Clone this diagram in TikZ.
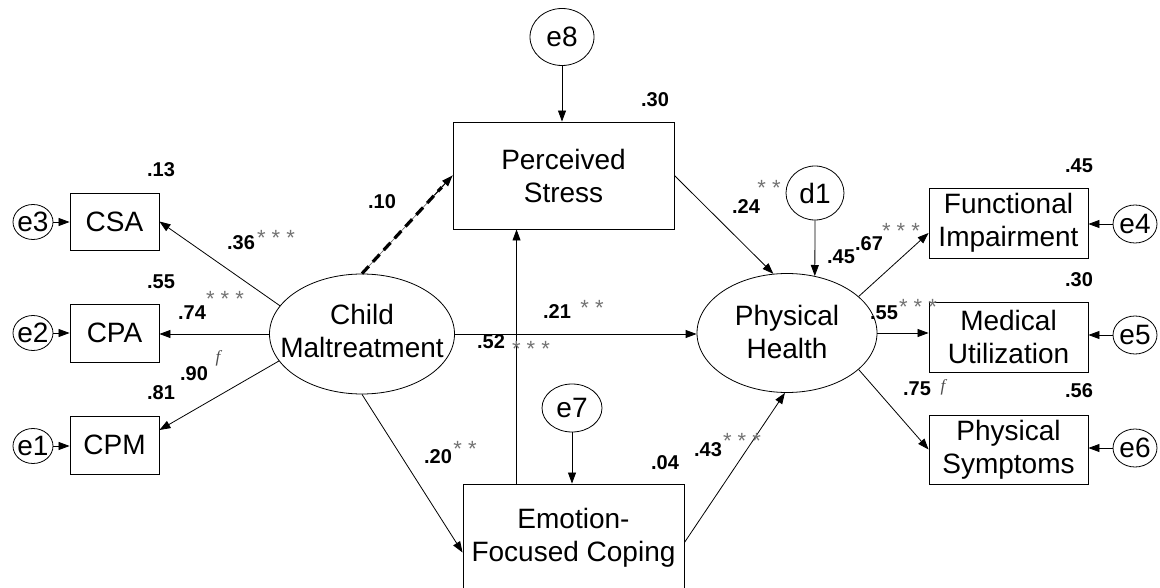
\documentclass[tikz,border=0pt]{standalone}
\usepackage{fontspec}
\setmainfont{Liberation Sans}
\newfontfamily\seriff{Liberation Serif}
\usetikzlibrary{arrows.meta,shapes.geometric,calc}
\newcommand\mainf{\fontsize{28}{33}\selectfont}
\newcommand\labf{\fontsize{20}{22}\selectfont\bfseries}
\newcommand\starf{\fontsize{22}{22}\selectfont}
\begin{document}
\begin{tikzpicture}[x=1pt,y=-1pt,
 ell/.style={draw, ellipse, inner sep=0pt, line width=0.8pt},
 rbox/.style={draw, rectangle, inner sep=0pt, line width=0.9pt, font=\mainf, align=center},
 etxt/.style={font=\mainf, align=center, inner sep=0pt},
 arr/.style={line width=0.8pt, -{Triangle[length=11pt,width=8pt]}},
 lab/.style={font=\labf, inner sep=0pt},
 stars/.style={font=\starf, text=black!55, inner sep=0pt, yshift=-5pt},
 ff/.style={font=\seriff\itshape\fontsize{17}{17}\selectfont, inner sep=0pt, text=black!70}
]
\useasboundingbox (0,0) rectangle (1160,588);
\clip (0,0) rectangle (1160,588);

% central nodes
\node[rbox, minimum width=221pt, minimum height=107pt] (ps) at (563.5,175.5) {Perceived\\Stress};
\node[ell, minimum width=64pt, minimum height=57pt] (e8) at (562,37) {};
\node[etxt] (e8t) at (e8) {e8};
\node[ell, minimum width=185pt, minimum height=120pt] (cm) at (362,334) {};
\node[etxt] (cmt) at ($(cm)+(0,-3)$) {Child\\Maltreatment};
\node[ell, minimum width=180pt, minimum height=119pt] (ph) at (787,333) {};
\node[etxt] (pht) at ($(ph)+(0,-1)$) {Physical\\Health};
\node[ell, minimum width=58pt, minimum height=54pt] (d1) at (815,193) {};
\node[etxt] (d1t) at (d1) {d1};
\node[rbox, minimum width=221pt, minimum height=107pt] (efc) at (573.5,537.5) {Emotion-\\Focused Coping};
\node[ell, minimum width=60pt, minimum height=48pt] (e7) at (572,408) {};
\node[etxt] (e7t) at (e7) {e7};

% right indicators
\node[rbox, minimum width=159pt, minimum height=70pt] (fi) at (1008.5,223) {Functional\\Impairment};
\node[rbox, minimum width=159pt, minimum height=70pt] (mu) at (1008.5,337) {Medical\\Utilization};
\node[rbox, minimum width=159pt, minimum height=69pt] (psy) at (1008.5,449.5) {Physical\\Symptoms};
\node[ell, minimum width=44pt, minimum height=38pt] (e4) at (1135,224) {};
\node[etxt] (e4t) at (e4) {e4};
\node[ell, minimum width=44pt, minimum height=38pt] (e5) at (1135,335) {};
\node[etxt] (e5t) at (e5) {e5};
\node[ell, minimum width=44pt, minimum height=38pt] (e6) at (1135,448) {};
\node[etxt] (e6t) at (e6) {e6};

% left indicators
\node[rbox, minimum width=89pt, minimum height=57pt] (csa) at (114.5,221.5) {CSA};
\node[rbox, minimum width=89pt, minimum height=58pt] (cpa) at (114.5,333) {CPA};
\node[rbox, minimum width=89pt, minimum height=58pt] (cpm) at (114.5,445) {CPM};
\node[ell, minimum width=40pt, minimum height=35pt] (e3) at (33,222) {};
\node[etxt] (e3t) at (e3) {e3};
\node[ell, minimum width=40pt, minimum height=35pt] (e2) at (33,333) {};
\node[etxt] (e2t) at (e2) {e2};
\node[ell, minimum width=40pt, minimum height=35pt] (e1) at (33,446) {};
\node[etxt] (e1t) at (e1) {e1};

% connectors
\draw[arr] (e8.south) -- (e8.south |- ps.north);
\draw[line width=0.6pt, black!60] (cm.north) -- (ps.west);
\draw[line width=3.2pt, dash pattern=on 10pt off 6pt] (cm.north) -- ($(cm.north)!0.88!(ps.west)$);
\draw[arr, line width=1pt] ($(cm.north)!0.8!(ps.west)$) -- (ps.west);
\draw[arr] (ps.east) -- (ph.103);
\draw[arr] (d1.south) -- (ph.64);
\draw[arr] (cm.east) -- (cm.east -| ph.west);
\draw[arr] ($(efc.north west)+(54,0)$) -- ($(ps.south west)+(64,0)$);
\draw[arr] (e7.south) -- (e7.south |- efc.north);
\draw[arr] (cm.south) -- ($(efc.west)+(0,15)$);
\draw[arr] ($(efc.east)+(0,5)$) -- (ph.268);
\draw[arr] (ph.27) -- ($(fi.west)+(0,10)$);
\draw[arr] (ph.east) -- (ph.east -| mu.west);
\draw[arr] (ph.-27) -- (psy.west);
\draw[arr] (e4.west) -- (e4.west -| fi.east);
\draw[arr] (e5.west) -- (e5.west -| mu.east);
\draw[arr] (e6.west) -- (e6.west -| psy.east);
\draw[arr] (cm.161) -- (csa.east);
\draw[arr] (cm.west) -- (cm.west -| cpa.east);
\draw[arr] (cm.198) -- ($(cpm.east)+(0,-15)$);
\draw[arr] (e3.east) -- (e3.east -| csa.west);
\draw[arr] (e2.east) -- (e2.east -| cpa.west);
\draw[arr] (e1.east) -- (e1.east -| cpm.west);

% labels
\node[lab] (l13) at (161,170) {.13};
\node[lab] (l36) at (241,243) {.36};
\node[stars] (s36) at (276,233) {* * *};
\node[lab] (l55a) at (161,282) {.55};
\node[lab] (l74) at (192,313) {.74};
\node[stars] (s74) at (225,294) {* * *};
\node[lab] (l90) at (194,374) {.90};
\node[ff] (f90) at (218,358) {f};
\node[lab] (l81) at (161,393) {.81};
\node[lab] (l10) at (382,202) {.10};
\node[lab] (l30a) at (655,100) {.30};
\node[lab] (l24) at (746,207) {.24};
\node[stars] (s24) at (769,183) {* *};
\node[lab] (l45b) at (841,257) {.45};
\node[lab] (l67) at (869,244) {.67};
\node[stars] (s67) at (901,226) {* * *};
\node[lab] (l45a) at (1079,166) {.45};
\node[lab] (l30b) at (1079,280) {.30};
\node[lab] (l55b) at (884,313) {.55};
\node[stars] (s55) at (918,302) {* * *};
\node[lab] (l75) at (917,389) {.75};
\node[ff] (f75) at (943,387) {f};
\node[lab] (l56) at (1079,391) {.56};
\node[lab] (l43) at (708,450) {.43};
\node[stars] (s43) at (742,436) {* * *};
\node[lab] (l21) at (557,312) {.21};
\node[stars] (s21) at (592,303) {* *};
\node[lab] (l52) at (491,342) {.52};
\node[stars] (s52) at (531,344) {* * *};
\node[lab] (l20) at (438,457) {.20};
\node[stars] (s20) at (465,444) {* *};
\node[lab] (l04) at (665,463) {.04};
\end{tikzpicture}
\end{document}
